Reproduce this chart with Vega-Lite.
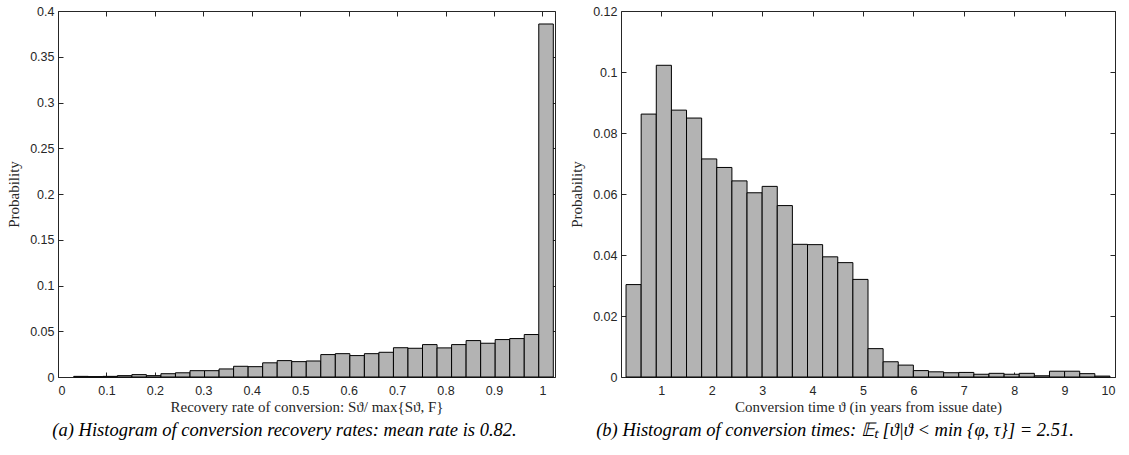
{
  "$schema": "https://vega.github.io/schema/vega-lite/v6.json",
  "padding": {"left": 6, "top": 4, "right": 5, "bottom": 5},
  "spacing": 13,
  "config": {
    "view": {"stroke": "#262626", "strokeWidth": 1},
    "axis": {
      "domain": false,
      "grid": false,
      "labelFont": "Liberation Sans",
      "labelFontSize": 12.5,
      "labelColor": "#262626",
      "tickColor": "#262626",
      "tickSize": -5,
      "labelPadding": 5,
      "labelExpr": "'' + datum.value",
      "titleFont": "Liberation Serif",
      "titleFontSize": 15,
      "titleFontWeight": "normal",
      "titleColor": "#262626"
    },
    "title": {"font": "Liberation Serif", "fontSize": 18.5, "fontStyle": "italic", "fontWeight": "normal", "color": "#000000", "orient": "bottom", "anchor": "middle", "offset": 6}
  },
  "datasets": {
    "rec": [
      {"lo": 0.0325, "hi": 0.0625, "p": 0.0007},
      {"lo": 0.0625, "hi": 0.0925, "p": 0.0004},
      {"lo": 0.0925, "hi": 0.1225, "p": 0.0007},
      {"lo": 0.1225, "hi": 0.1525, "p": 0.0015},
      {"lo": 0.1525, "hi": 0.1825, "p": 0.0026},
      {"lo": 0.1825, "hi": 0.2125, "p": 0.0015},
      {"lo": 0.2125, "hi": 0.2425, "p": 0.0036},
      {"lo": 0.2425, "hi": 0.2725, "p": 0.0046},
      {"lo": 0.2725, "hi": 0.3025, "p": 0.0069},
      {"lo": 0.3025, "hi": 0.3325, "p": 0.0069},
      {"lo": 0.3325, "hi": 0.3625, "p": 0.0088},
      {"lo": 0.3625, "hi": 0.3925, "p": 0.0117},
      {"lo": 0.3925, "hi": 0.4225, "p": 0.0113},
      {"lo": 0.4225, "hi": 0.4525, "p": 0.0155},
      {"lo": 0.4525, "hi": 0.4825, "p": 0.0179},
      {"lo": 0.4825, "hi": 0.5125, "p": 0.0168},
      {"lo": 0.5125, "hi": 0.5425, "p": 0.0175},
      {"lo": 0.5425, "hi": 0.5725, "p": 0.0245},
      {"lo": 0.5725, "hi": 0.6025, "p": 0.0255},
      {"lo": 0.6025, "hi": 0.6325, "p": 0.0234},
      {"lo": 0.6325, "hi": 0.6625, "p": 0.0255},
      {"lo": 0.6625, "hi": 0.6925, "p": 0.027},
      {"lo": 0.6925, "hi": 0.7225, "p": 0.032},
      {"lo": 0.7225, "hi": 0.7525, "p": 0.0314},
      {"lo": 0.7525, "hi": 0.7825, "p": 0.0354},
      {"lo": 0.7825, "hi": 0.8125, "p": 0.0318},
      {"lo": 0.8125, "hi": 0.8425, "p": 0.0354},
      {"lo": 0.8425, "hi": 0.8725, "p": 0.0398},
      {"lo": 0.8725, "hi": 0.9025, "p": 0.0369},
      {"lo": 0.9025, "hi": 0.9325, "p": 0.0409},
      {"lo": 0.9325, "hi": 0.9625, "p": 0.042},
      {"lo": 0.9625, "hi": 0.9925, "p": 0.0464},
      {"lo": 0.9925, "hi": 1.0225, "p": 0.3858}
    ],
    "time": [
      {"lo": 0.3, "hi": 0.6, "p": 0.0303},
      {"lo": 0.6, "hi": 0.9, "p": 0.0862},
      {"lo": 0.9, "hi": 1.2, "p": 0.1022},
      {"lo": 1.2, "hi": 1.5, "p": 0.0875},
      {"lo": 1.5, "hi": 1.8, "p": 0.0849},
      {"lo": 1.8, "hi": 2.1, "p": 0.0715},
      {"lo": 2.1, "hi": 2.4, "p": 0.0687},
      {"lo": 2.4, "hi": 2.7, "p": 0.0643},
      {"lo": 2.7, "hi": 3.0, "p": 0.0604},
      {"lo": 3.0, "hi": 3.3, "p": 0.0625},
      {"lo": 3.3, "hi": 3.6, "p": 0.0562},
      {"lo": 3.6, "hi": 3.9, "p": 0.0435},
      {"lo": 3.9, "hi": 4.2, "p": 0.0434},
      {"lo": 4.2, "hi": 4.5, "p": 0.0394},
      {"lo": 4.5, "hi": 4.8, "p": 0.0375},
      {"lo": 4.8, "hi": 5.1, "p": 0.032},
      {"lo": 5.1, "hi": 5.4, "p": 0.0093},
      {"lo": 5.4, "hi": 5.7, "p": 0.005},
      {"lo": 5.7, "hi": 6.0, "p": 0.0039},
      {"lo": 6.0, "hi": 6.3, "p": 0.0021},
      {"lo": 6.3, "hi": 6.6, "p": 0.0017},
      {"lo": 6.6, "hi": 6.9, "p": 0.0014},
      {"lo": 6.9, "hi": 7.2, "p": 0.0015},
      {"lo": 7.2, "hi": 7.5, "p": 0.0009},
      {"lo": 7.5, "hi": 7.8, "p": 0.0012},
      {"lo": 7.8, "hi": 8.1, "p": 0.0009},
      {"lo": 8.1, "hi": 8.4, "p": 0.0012},
      {"lo": 8.4, "hi": 8.7, "p": 0.0004},
      {"lo": 8.7, "hi": 9.0, "p": 0.0019},
      {"lo": 9.0, "hi": 9.3, "p": 0.0019},
      {"lo": 9.3, "hi": 9.6, "p": 0.0011},
      {"lo": 9.6, "hi": 9.9, "p": 0.0003}
    ]
  },
  "hconcat": [
    {
      "width": 497,
      "height": 366,
      "data": {"name": "rec"},
      "title": {"text": "(a) Histogram of conversion recovery rates: mean rate is 0.82.", "dx": -22},
      "resolve": {"axis": {"x": "independent", "y": "independent"}},
      "layer": [
        {
          "mark": {"type": "bar", "fill": "#b3b3b3", "stroke": "#000000", "strokeWidth": 1},
          "encoding": {
            "x": {"field": "lo", "type": "quantitative", "scale": {"domain": [0, 1.026], "nice": false, "zero": false},
                  "axis": {"orient": "bottom", "values": [0, 0.1, 0.2, 0.3, 0.4, 0.5, 0.6, 0.7, 0.8, 0.9, 1], "title": "Recovery rate of conversion: Sϑ/ max{Sϑ, F}", "titlePadding": 3, "labelPadding": 12}},
            "x2": {"field": "hi"},
            "y": {"field": "p", "type": "quantitative", "scale": {"domain": [0, 0.4], "nice": false},
                  "axis": {"orient": "left", "values": [0, 0.05, 0.1, 0.15, 0.2, 0.25, 0.3, 0.35, 0.4], "title": "Probability", "titlePadding": 8, "labelPadding": 9}},
            "y2": {"datum": 0}
          }
        },
        {
          "mark": {"type": "bar", "fillOpacity": 0, "strokeOpacity": 0},
          "encoding": {
            "x": {"field": "lo", "type": "quantitative",
                  "axis": {"orient": "top", "values": [0, 0.1, 0.2, 0.3, 0.4, 0.5, 0.6, 0.7, 0.8, 0.9, 1], "labels": false, "title": null}},
            "x2": {"field": "hi"},
            "y": {"field": "p", "type": "quantitative",
                  "axis": {"orient": "right", "values": [0, 0.05, 0.1, 0.15, 0.2, 0.25, 0.3, 0.35, 0.4], "labels": false, "title": null}},
            "y2": {"datum": 0}
          }
        }
      ]
    },
    {
      "width": 494,
      "height": 366,
      "data": {"name": "time"},
      "title": {"text": "(b) Histogram of conversion times: 𝔼ₜ [ϑ|ϑ < min {φ, τ}] = 2.51.", "dx": -33},
      "resolve": {"axis": {"x": "independent", "y": "independent"}},
      "layer": [
        {
          "mark": {"type": "bar", "fill": "#b3b3b3", "stroke": "#000000", "strokeWidth": 1},
          "encoding": {
            "x": {"field": "lo", "type": "quantitative", "scale": {"domain": [0.2, 10], "nice": false, "zero": false},
                  "axis": {"orient": "bottom", "values": [1, 2, 3, 4, 5, 6, 7, 8, 9, 10], "title": "Conversion time ϑ (in years from issue date)", "titlePadding": 3, "labelPadding": 12}},
            "x2": {"field": "hi"},
            "y": {"field": "p", "type": "quantitative", "scale": {"domain": [0, 0.12], "nice": false},
                  "axis": {"orient": "left", "values": [0, 0.02, 0.04, 0.06, 0.08, 0.1, 0.12], "title": "Probability", "titlePadding": 8, "labelPadding": 9}},
            "y2": {"datum": 0}
          }
        },
        {
          "mark": {"type": "bar", "fillOpacity": 0, "strokeOpacity": 0},
          "encoding": {
            "x": {"field": "lo", "type": "quantitative",
                  "axis": {"orient": "top", "values": [1, 2, 3, 4, 5, 6, 7, 8, 9, 10], "labels": false, "title": null}},
            "x2": {"field": "hi"},
            "y": {"field": "p", "type": "quantitative",
                  "axis": {"orient": "right", "values": [0, 0.02, 0.04, 0.06, 0.08, 0.1, 0.12], "labels": false, "title": null}},
            "y2": {"datum": 0}
          }
        }
      ]
    }
  ]
}
